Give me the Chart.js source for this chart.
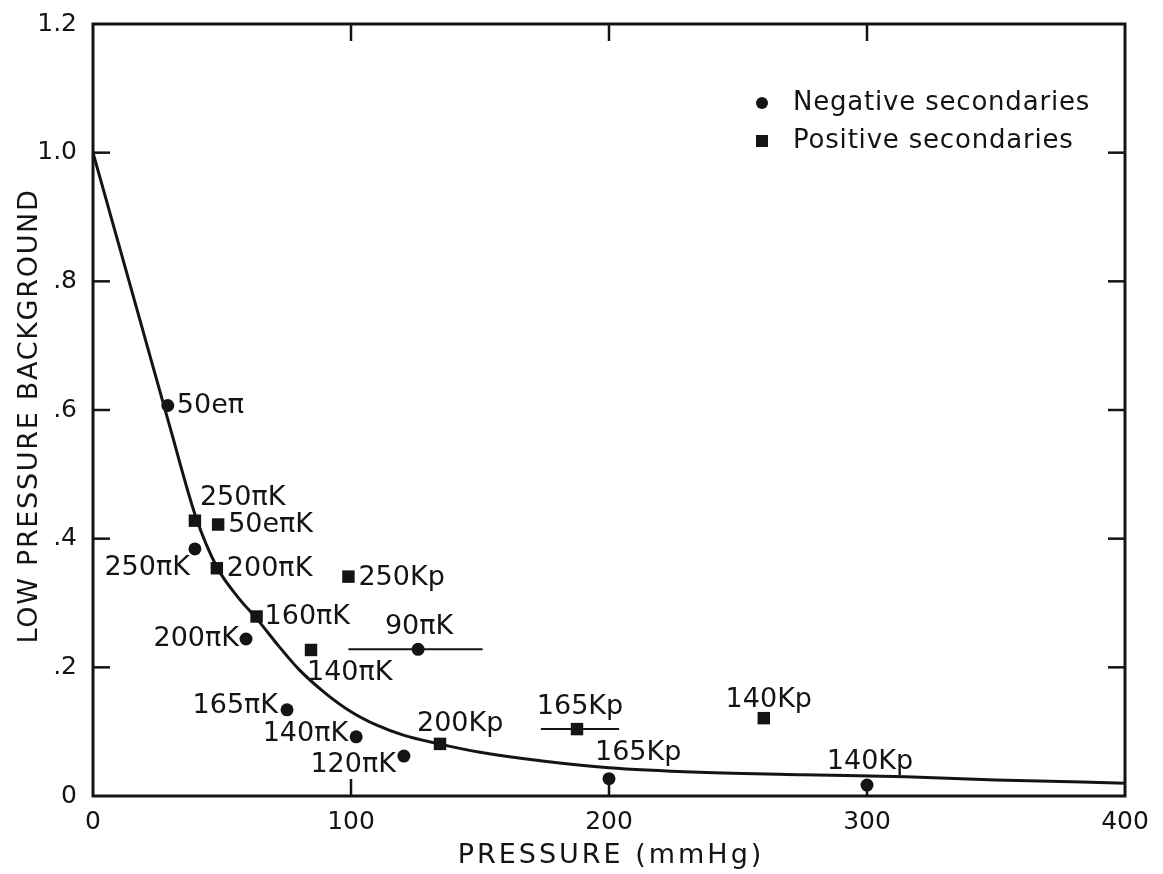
<!DOCTYPE html>
<html><head><meta charset="utf-8">
<script src="https://cdn.jsdelivr.net/npm/chart.js@4.4.0/dist/chart.umd.min.js"></script>
<style>html,body{margin:0;padding:0;background:#fff;overflow:hidden}</style>
</head><body>
<canvas id="c" width="1163" height="874"></canvas>
<script>
// ---- data ----
const xTickValues = [0, 100, 200, 300, 400];
const xTickLabels = ['0', '100', '200', '300', '400'];
const yTickValues = [0, 0.2, 0.4, 0.6, 0.8, 1.0, 1.2];
const yTickLabels = ['0', '.2', '.4', '.6', '.8', '1.0', '1.2'];

const negX = [29, 39.5, 59.3, 75.2, 102, 120.5, 126, 200, 300];
const negY = [0.607, 0.384, 0.244, 0.134, 0.092, 0.062, 0.228, 0.027, 0.017];
const negLabels = ['50eπ', '250πK', '200πK', '165πK', '140πK', '120πK', '90πK', '165Kp', '140Kp'];

const posX = [39.5, 48.5, 48, 99, 63.4, 84.5, 134.5, 187.6, 260];
const posY = [0.428, 0.422, 0.354, 0.341, 0.279, 0.227, 0.081, 0.104, 0.121];
const posLabels = ['250πK', '50eπK', '200πK', '250Kp', '160πK', '140πK', '200Kp', '165Kp', '140Kp'];

const negBarX = [99, 151];
const negBarY = [0.228, 0.228];
const posBarX = [173.6, 203.9];
const posBarY = [0.104, 0.104];

const curveX = [0, 10, 20, 30, 40, 48, 56, 64, 72, 80, 90, 100, 110, 120, 134, 150, 175, 200, 235, 275, 315, 350, 400];
const curveY = [1.0, 0.857, 0.714, 0.571, 0.432, 0.356, 0.31, 0.273, 0.233, 0.196, 0.16, 0.131, 0.11, 0.095, 0.081, 0.068, 0.054, 0.044, 0.037, 0.033, 0.030, 0.025, 0.020];

const legendLabels = ['Negative secondaries', 'Positive secondaries'];
const xTitle = 'PRESSURE (mmHg)';
const yTitle = 'LOW PRESSURE BACKGROUND';

// ---- label placement (pixel offsets from the mark, and alignment) ----
const negLabelPos = [[9, 0, 'left'], [-5, 19, 'right'], [-7, 0, 'right'], [-9, -4, 'right'], [-8, -3, 'right'], [-8, 9, 'right'], [1, -22, 'center'], [-14, -26, 'left'], [3, -23, 'center']];
const posLabelPos = [[5, -23, 'left'], [10, 0, 'left'], [10, 1, 'left'], [10, 1, 'left'], [8, 0, 'left'], [-4, 23, 'left'], [-23, -20, 'left'], [3, -22, 'center'], [5, -18, 'center']];

const INK = '#141414';
const pts = (xs, ys) => xs.map((v, i) => ({x: v, y: ys[i]}));

function line(ctx, x1, y1, x2, y2) { ctx.beginPath(); ctx.moveTo(x1, y1); ctx.lineTo(x2, y2); ctx.stroke(); }
function zeroPad(s) { s.paddingTop = 0; s.paddingBottom = 0; s.paddingLeft = 0; s.paddingRight = 0; }

const deco = {
  id: 'deco',
  beforeDraw(chart) { chart.ctx.letterSpacing = '0px'; },
  afterDatasetsDraw(chart) {
    const {ctx, chartArea: a, scales: {x, y}} = chart;
    ctx.save();
    ctx.strokeStyle = INK; ctx.fillStyle = INK;
    ctx.lineWidth = 3;
    ctx.strokeRect(a.left, a.top, a.right - a.left, a.bottom - a.top);
    ctx.lineWidth = 2.5;
    const T = 17;
    xTickValues.slice(1, -1).forEach(v => {
      const px = x.getPixelForValue(v);
      line(ctx, px, a.bottom, px, a.bottom - T);
      line(ctx, px, a.top, px, a.top + T);
    });
    yTickValues.slice(1, -1).forEach(v => {
      const py = y.getPixelForValue(v);
      line(ctx, a.left, py, a.left + T, py);
      line(ctx, a.right, py, a.right - T, py);
    });
    // point labels
    ctx.font = '27px "DejaVu Sans"';
    ctx.textBaseline = 'middle';
    const put = (xs, ys, labs, pos) => labs.forEach((t, i) => {
      const px = x.getPixelForValue(xs[i]), py = y.getPixelForValue(ys[i]);
      ctx.textAlign = pos[i][2];
      ctx.fillText(t, px + pos[i][0], py + pos[i][1]);
    });
    put(negX, negY, negLabels, negLabelPos);
    put(posX, posY, posLabels, posLabelPos);
    // legend
    const lx = a.right - 363, ly1 = a.top + 79, ly2 = a.top + 117;
    ctx.beginPath(); ctx.arc(lx, ly1, 6, 0, Math.PI * 2); ctx.fill();
    ctx.fillRect(lx - 6, ly2 - 6, 12, 12);
    ctx.textAlign = 'left';
    ctx.font = '26px "DejaVu Sans"';
    ctx.letterSpacing = '0.8px';
    ctx.fillText(legendLabels[0], lx + 31, ly1);
    ctx.fillText(legendLabels[1], lx + 31, ly2);
    // axis titles
    ctx.font = '27px "DejaVu Sans"';
    ctx.letterSpacing = '3px';
    ctx.textAlign = 'center';
    ctx.fillText(xTitle, (a.left + a.right) / 2 + 2, 856);
    ctx.save();
    ctx.translate(30, (a.top + a.bottom) / 2 + 6);
    ctx.rotate(-Math.PI / 2);
    ctx.letterSpacing = '1.7px';
    ctx.fillText(yTitle, 0, 0);
    ctx.restore();
    ctx.letterSpacing = '0px';
    ctx.restore();
  }
};

new Chart(document.getElementById('c'), {
  type: 'scatter',
  data: {
    datasets: [
      {data: pts(curveX, curveY), showLine: true, pointRadius: 0, borderColor: INK, borderWidth: 3, cubicInterpolationMode: 'monotone'},
      {data: pts(negBarX, negBarY), showLine: true, pointRadius: 0, borderColor: INK, borderWidth: 2},
      {data: pts(posBarX, posBarY), showLine: true, pointRadius: 0, borderColor: INK, borderWidth: 2},
      {label: legendLabels[0], data: pts(negX, negY), pointStyle: 'circle', pointRadius: 6.5, backgroundColor: INK, borderWidth: 0},
      {label: legendLabels[1], data: pts(posX, posY), pointStyle: 'rect', pointRadius: 8.8, backgroundColor: INK, borderWidth: 0}
    ]
  },
  options: {
    responsive: false,
    animation: false,
    layout: {padding: {left: 0, right: 38, top: 24, bottom: 0}},
    plugins: {legend: {display: false}, tooltip: {enabled: false}},
    scales: {
      x: {
        type: 'linear', min: 0, max: 400,
        afterBuildTicks: s => { s.ticks = xTickValues.map(v => ({value: v})); },
        afterFit: s => { s.height = 78; zeroPad(s); },
        grid: {display: false, drawTicks: false},
        border: {display: false},
        ticks: {color: INK, font: {family: 'DejaVu Sans', size: 25}, padding: 11, maxRotation: 0,
                callback: (v, i) => xTickLabels[i]}
      },
      y: {
        type: 'linear', min: 0, max: 1.2,
        afterBuildTicks: s => { s.ticks = yTickValues.map(v => ({value: v})); },
        afterFit: s => { s.width = 93; zeroPad(s); },
        grid: {display: false, drawTicks: false},
        border: {display: false},
        ticks: {color: INK, font: {family: 'DejaVu Sans', size: 25}, padding: 16,
                callback: (v, i) => yTickLabels[i]}
      }
    }
  },
  plugins: [deco]
});
</script>
</body></html>
